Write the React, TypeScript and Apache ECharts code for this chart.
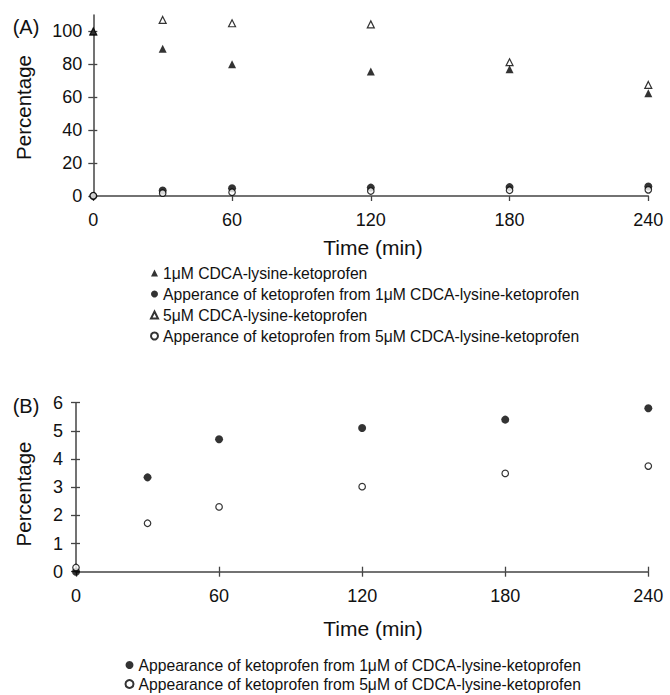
import React, { useEffect, useRef } from "react";
import * as echarts from "echarts";

const times = [0, 30, 60, 120, 180, 240];
const tri1uM = [100, 89.5, 80, 75.6, 77, 62.5];
const tri5uM = [100, 107, 105, 104.3, 81.3, 67.5];
const keto1uM = [0, 3.35, 4.7, 5.1, 5.4, 5.8];
const keto5uM = [0.15, 1.72, 2.3, 3.02, 3.49, 3.75];
const xTicks = [0, 60, 120, 180, 240];
const yTicksA = [0, 20, 40, 60, 80, 100];

const namesA = [
  "1μM CDCA-lysine-ketoprofen",
  "Apperance of ketoprofen from 1μM CDCA-lysine-ketoprofen",
  "5μM CDCA-lysine-ketoprofen",
  "Apperance of ketoprofen from 5μM CDCA-lysine-ketoprofen",
];
const namesB = [
  "Appearance of ketoprofen from 1μM of CDCA-lysine-ketoprofen",
  "Appearance of ketoprofen from 5μM of CDCA-lysine-ketoprofen",
];

const FONT = "Liberation Sans, Arial, sans-serif";
const INK = "#111";
const AXIS = "#444";

const pairs = (vals: number[]) => times.map((t, i) => [t, vals[i]]);

export default function App() {
  const ref = useRef<HTMLDivElement>(null);
  useEffect(() => {
    if (!ref.current) return;
    const chart = echarts.init(ref.current, null, { renderer: "svg" });
    const axisLine = { show: true, onZero: false, lineStyle: { color: AXIS, width: 1.5 } };
    const tickLabel = { fontSize: 18, fontFamily: FONT, color: INK };
    const filled = (symbol: string, size: number) => ({
      symbol,
      symbolSize: size,
      itemStyle: { color: "#000" },
    });
    const open = (symbol: string, size: number) => ({
      symbol,
      symbolSize: size,
      itemStyle: { color: "#fff", borderColor: "#000", borderWidth: 1.2 },
    });
    const option: any = {
      animation: false,
      backgroundColor: "#fff",
      grid: [
        { left: 93.3, top: 15, width: 555, height: 181 },
        { left: 76, top: 402.7, width: 572.3, height: 169 },
      ],
      xAxis: [
        {
          gridIndex: 0, type: "value", min: 0, max: 240, interval: 60, position: "bottom",
          axisLine, splitLine: { show: false },
          axisTick: { show: true, length: 5, lineStyle: { color: AXIS, width: 1.3 } },
          axisLabel: { ...tickLabel, margin: 15, customValues: xTicks },
        },
        {
          gridIndex: 1, type: "value", min: 0, max: 240, interval: 60, position: "bottom",
          axisLine, splitLine: { show: false },
          axisTick: { show: true, length: 5, lineStyle: { color: AXIS, width: 1.3 } },
          axisLabel: { ...tickLabel, margin: 15 },
        },
        {
          gridIndex: 1, type: "value", min: 0, max: 240, interval: 60, position: "bottom",
          axisLine: { show: false }, splitLine: { show: false }, axisLabel: { show: false },
          axisTick: { show: true, inside: true, length: 5, lineStyle: { color: AXIS, width: 1.3 } },
        },
      ],
      yAxis: [
        {
          gridIndex: 0, type: "value", min: 0, max: 110, position: "left",
          axisLine, splitLine: { show: false },
          axisTick: { show: true, length: 5, customValues: yTicksA, lineStyle: { color: AXIS, width: 1.3 } },
          axisLabel: { ...tickLabel, margin: 11, customValues: yTicksA },
        },
        {
          gridIndex: 0, type: "value", min: 0, max: 110, position: "left",
          axisLine: { show: false }, splitLine: { show: false }, axisLabel: { show: false },
          axisTick: { show: true, inside: true, length: 4, customValues: yTicksA, lineStyle: { color: AXIS, width: 1.3 } },
        },
        {
          gridIndex: 1, type: "value", min: 0, max: 6, interval: 1, position: "left",
          axisLine, splitLine: { show: false },
          axisTick: { show: true, length: 5, lineStyle: { color: AXIS, width: 1.3 } },
          axisLabel: { ...tickLabel, margin: 13 },
        },
        {
          gridIndex: 1, type: "value", min: 0, max: 6, interval: 1, position: "left",
          axisLine: { show: false }, splitLine: { show: false }, axisLabel: { show: false },
          axisTick: { show: true, inside: true, length: 4, lineStyle: { color: AXIS, width: 1.3 } },
        },
      ],
      legend: [
        {
          data: namesA, orient: "vertical", left: 150, top: 264, padding: 0,
          itemWidth: 7, itemHeight: 7, itemGap: 3, selectedMode: false,
          textStyle: { fontSize: 15.7, fontFamily: FONT, color: INK, lineHeight: 18 },
        },
        {
          data: namesB, orient: "vertical", left: 124.5, top: 656, padding: 0,
          itemWidth: 8, itemHeight: 8, itemGap: 1, selectedMode: false,
          textStyle: { fontSize: 15.7, fontFamily: FONT, color: INK, lineHeight: 18 },
        },
      ],
      graphic: [
        { type: "text", x: 26, y: 27, style: { text: "(A)", font: `20px ${FONT}`, fill: INK, textAlign: "center", textVerticalAlign: "middle" } },
        { type: "text", x: 26, y: 406, style: { text: "(B)", font: `20px ${FONT}`, fill: INK, textAlign: "center", textVerticalAlign: "middle" } },
        { type: "text", x: 23, y: 107.5, rotation: Math.PI / 2, style: { text: "Percentage", font: `20.5px ${FONT}`, fill: INK, textAlign: "center", textVerticalAlign: "middle" } },
        { type: "text", x: 23, y: 494, rotation: Math.PI / 2, style: { text: "Percentage", font: `20.5px ${FONT}`, fill: INK, textAlign: "center", textVerticalAlign: "middle" } },
        { type: "text", x: 373, y: 247, style: { text: "Time (min)", font: `21px ${FONT}`, fill: INK, textAlign: "center", textVerticalAlign: "middle" } },
        { type: "text", x: 373, y: 628, style: { text: "Time (min)", font: `21px ${FONT}`, fill: INK, textAlign: "center", textVerticalAlign: "middle" } },
      ],
      series: [
        { name: namesA[2], type: "scatter", xAxisIndex: 0, yAxisIndex: 0, data: pairs(tri5uM), ...open("triangle", 7) },
        { name: namesA[0], type: "scatter", xAxisIndex: 0, yAxisIndex: 0, data: pairs(tri1uM), ...filled("triangle", 8) },
        { name: namesA[1], type: "scatter", xAxisIndex: 0, yAxisIndex: 0, data: pairs(keto1uM), ...filled("circle", 8) },
        { name: namesA[3], type: "scatter", xAxisIndex: 0, yAxisIndex: 0, data: pairs(keto5uM), ...open("circle", 6.5) },
        { name: namesB[0], type: "scatter", xAxisIndex: 1, yAxisIndex: 2, data: pairs(keto1uM), ...filled("circle", 8) },
        { name: namesB[1], type: "scatter", xAxisIndex: 1, yAxisIndex: 2, data: pairs(keto5uM), ...open("circle", 6.5) },
      ],
    };
    chart.setOption(option);
    return () => chart.dispose();
  }, []);
  return (
    <div
      ref={ref}
      style={{ position: "fixed", left: 0, top: 0, width: 670, height: 695, background: "#fff" }}
    />
  );
}
